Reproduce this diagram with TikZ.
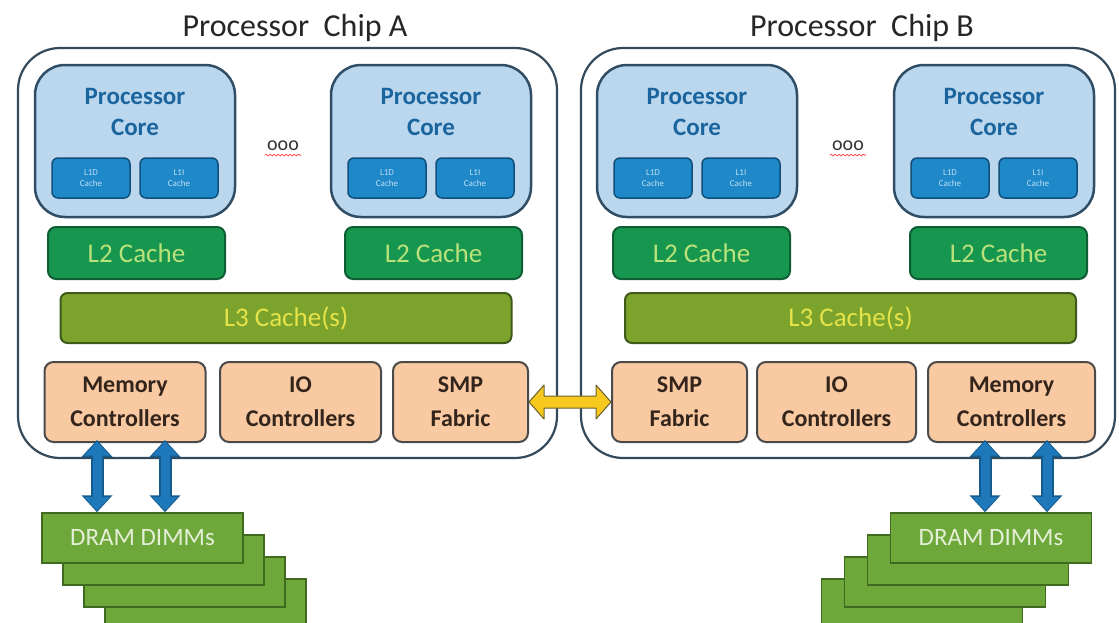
\documentclass[tikz,border=0pt]{standalone}
\usepackage{fontspec}
\setmainfont{Carlito}
\usetikzlibrary{arrows.meta,calc,decorations.pathmorphing}
\definecolor{chipline}{HTML}{34495A}
\definecolor{corefill}{HTML}{BBD7EE}
\definecolor{coreline}{HTML}{2F4E66}
\definecolor{coretxt}{HTML}{1A659E}
\definecolor{lonefill}{HTML}{1E88C8}
\definecolor{loneline}{HTML}{0F4F7A}
\definecolor{lonetxt}{HTML}{BFE0F5}
\definecolor{ltwofill}{HTML}{17964F}
\definecolor{ltwoline}{HTML}{0D5E33}
\definecolor{ltwotxt}{HTML}{B9E27A}
\definecolor{lthreefill}{HTML}{7CA42C}
\definecolor{lthreeline}{HTML}{3F5A1A}
\definecolor{lthreetxt}{HTML}{E6E24A}
\definecolor{ctrlfill}{HTML}{F9C9A2}
\definecolor{ctrlline}{HTML}{4A4A4A}
\definecolor{ctrltxt}{HTML}{33241C}
\definecolor{dimmfill}{HTML}{6FA83A}
\definecolor{dimmline}{HTML}{3F6A1F}
\definecolor{dimmtxt}{HTML}{E4EFD8}
\definecolor{barrow}{HTML}{1E78B9}
\definecolor{barrowline}{HTML}{145A8C}
\definecolor{yarrowfill}{HTML}{F7C81E}
\definecolor{yarrowline}{HTML}{6A6030}
\tikzset{
  chip/.style={draw=chipline, line width=2.2pt, rounded corners=42pt, fill=white},
  core/.style={draw=coreline, line width=2.5pt, rounded corners=30pt, fill=corefill, minimum width=200pt, minimum height=152pt, inner sep=0pt},
  coretext/.style={text=coretxt, font=\bfseries\fontsize{25}{31}\selectfont, align=center, inner sep=0pt},
  lone/.style={draw=loneline, line width=1.5pt, rounded corners=6pt, fill=lonefill, minimum width=78pt, minimum height=40pt, inner sep=0pt, text=lonetxt, font=\fontsize{9}{11}\selectfont, align=center},
  ltwo/.style={draw=ltwoline, line width=2pt, rounded corners=8pt, fill=ltwofill, minimum width=177pt, minimum height=52pt, inner sep=0pt, text=ltwotxt, font=\fontsize{27}{30}\selectfont},
  lthree/.style={draw=lthreeline, line width=2pt, rounded corners=7pt, fill=lthreefill, minimum width=451pt, minimum height=50pt, inner sep=0pt, text=lthreetxt, font=\fontsize{27}{30}\selectfont},
  ctrl/.style={draw=ctrlline, line width=2pt, rounded corners=9pt, fill=ctrlfill, minimum height=80pt, inner sep=0pt, text=ctrltxt, font=\bfseries\fontsize{24}{34}\selectfont, align=center},
  dimm/.style={draw=dimmline, line width=1.5pt, fill=dimmfill, minimum width=201pt, minimum height=50pt, inner sep=0pt, text=dimmtxt, font=\fontsize{25}{30}\selectfont},
  title/.style={font=\fontsize{32}{36}\selectfont, text=black!85, inner sep=0pt},
  dots/.style={font=\fontsize{20}{22}\selectfont, text=black!80, inner sep=0pt},
  memarrowbg/.style={barrowline, line width=13pt, {Triangle[width=30pt,length=17pt]}-{Triangle[width=30pt,length=17pt]}},
  memarrow/.style={barrow, line width=9pt, {Triangle[width=25pt,length=14pt]}-{Triangle[width=25pt,length=14pt]}, shorten <=1.5pt, shorten >=1.5pt},
  smparrow/.style={draw=yarrowline, line width=1pt, fill=yarrowfill, line join=round},
  squiggle/.style={draw=red!70, line width=0.8pt, decorate, decoration={snake, amplitude=0.8pt, segment length=4pt}}
}
\newcommand{\mkcore}[2]{%
  \node[core] (#1) at (#2,141) {};
  \node[coretext] (#1t) at (#2,112) {Processor\\Core};
  \node[lone] (#1d) at ({#2-44},178) {L1D\\Cache};
  \node[lone] (#1i) at ({#2+44},178) {L1I\\Cache};
}
\begin{document}
\begin{tikzpicture}[x=1pt,y=-1pt]
\useasboundingbox (0,0) rectangle (1119,622);
\fill[white] (0,0) rectangle (1119,622);
% chips
\draw[chip] (18,48) rectangle (557,458);
\draw[chip] (581,48) rectangle (1115,458);
\node[title] (tA) at (295,28) {Processor\ \ Chip A};
\node[title] (tB) at (862,28) {Processor\ \ Chip B};
% cores
\mkcore{cA1}{135}
\mkcore{cA2}{431}
\mkcore{cB1}{697}
\mkcore{cB2}{994}
\node[dots] (dA) at (283,146) {ooo};
\node[dots] (dB) at (848,146) {ooo};
\draw[squiggle] ($(dA.south west)+(-2,4)$) -- ($(dA.south east)+(2,4)$);
\draw[squiggle] ($(dB.south west)+(-2,4)$) -- ($(dB.south east)+(2,4)$);
% L2
\node[ltwo] (l2A1) at (136.5,253) {L2 Cache};
\node[ltwo] (l2A2) at (433.5,253) {L2 Cache};
\node[ltwo] (l2B1) at (701.5,253) {L2 Cache};
\node[ltwo] (l2B2) at (998.5,253) {L2 Cache};
% L3
\node[lthree] (l3A) at (286,318) {L3 Cache(s)};
\node[lthree] (l3B) at (850.5,318) {L3 Cache(s)};
% controllers
\node[ctrl, minimum width=161pt] (memA) at (125,402) {Memory\\Controllers};
\node[ctrl, minimum width=161pt] (ioA) at (300.5,402) {IO\\Controllers};
\node[ctrl, minimum width=135pt] (smpA) at (460.5,402) {SMP\\Fabric};
\node[ctrl, minimum width=135pt] (smpB) at (679.5,402) {SMP\\Fabric};
\node[ctrl, minimum width=159pt] (ioB) at (836.5,402) {IO\\Controllers};
\node[ctrl, minimum width=167pt] (memB) at (1011.5,402) {Memory\\Controllers};
% SMP link
\draw[smparrow] (smpA.east) -- ++(15,-17) -- ++(0,11) -- ($(smpB.west)+(-15,-6)$) -- ++(0,-11) -- (smpB.west)
  -- ++(-15,17) -- ++(0,-11) -- ($(smpA.east)+(15,6)$) -- ++(0,11) -- cycle;
% DIMMs chip A
\node[dimm] (dmA4) at (205.5,604) {};
\node[dimm] (dmA3) at (184.5,582) {};
\node[dimm] (dmA2) at (163.5,560) {};
\node[dimm] (dmA1) at (142.5,538) {DRAM DIMMs};
% DIMMs chip B
\node[dimm] (dmB4) at (922,604) {};
\node[dimm] (dmB3) at (945,582) {};
\node[dimm] (dmB2) at (968,560) {};
\node[dimm] (dmB1) at (991,538) {DRAM DIMMs};
% memory arrows
\coordinate (aA1s) at ($(memA.south)+(-28,-3)$);
\coordinate (aA1e) at ($(dmA1.north)+(-45.5,0)$);
\coordinate (aA2s) at ($(memA.south)+(40,-3)$);
\coordinate (aA2e) at ($(dmA1.north)+(22.5,0)$);
\coordinate (aB1s) at ($(memB.south)+(-26.5,-3)$);
\coordinate (aB1e) at ($(dmB1.north)+(-6,0)$);
\coordinate (aB2s) at ($(memB.south)+(35.5,-3)$);
\coordinate (aB2e) at ($(dmB1.north)+(56,0)$);
\foreach \s/\e in {aA1s/aA1e, aA2s/aA2e, aB1s/aB1e, aB2s/aB2e}{
  \draw[memarrowbg] (\s) -- (\e);
  \draw[memarrow] (\s) -- (\e);
}
\end{tikzpicture}
\end{document}
